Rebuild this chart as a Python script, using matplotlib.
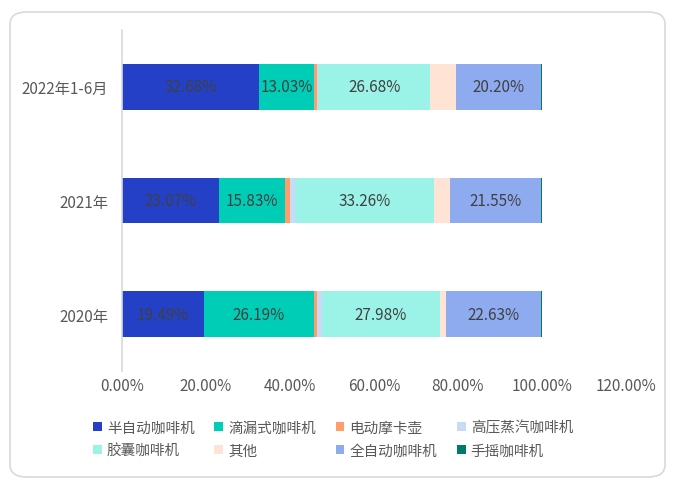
import matplotlib
matplotlib.use("Agg")
import matplotlib.pyplot as plt
from matplotlib.patches import FancyBboxPatch, Patch
from matplotlib.ticker import FuncFormatter

plt.rcParams['font.family'] = ['Noto Sans CJK SC', 'DejaVu Sans']

categories = ["2020年", "2021年", "2022年1-6月"]
series_names = ["半自动咖啡机", "滴漏式咖啡机", "电动摩卡壶", "高压蒸汽咖啡机",
                "胶囊咖啡机", "其他", "全自动咖啡机", "手摇咖啡机"]
semi_auto = [19.49, 23.07, 32.68]
drip = [26.19, 15.83, 13.03]
moka = [0.8, 1.0, 0.6]
steam = [1.2, 1.2, 0.4]
capsule = [27.98, 33.26, 26.68]
other = [1.5, 3.8, 6.2]
full_auto = [22.63, 21.55, 20.20]
hand = [0.21, 0.29, 0.21]
series_values = [semi_auto, drip, moka, steam, capsule, other, full_auto, hand]
labeled = [True, True, False, False, True, False, True, False]
colors = ["#2340C6", "#00CDB5", "#FF9E6A", "#C9DAF6", "#9BF3E7", "#FFE3D5", "#8EABF0", "#007A6B"]
xticks = [0, 20, 40, 60, 80, 100, 120]

fig = plt.figure(figsize=(6.8, 4.89), dpi=100)
fig.patch.set_facecolor("white")
border = FancyBboxPatch((10 / 680, 1 - 478 / 489), 655 / 680, 465 / 489,
                        boxstyle="round,pad=0,rounding_size=0.025",
                        transform=fig.transFigure, facecolor="none",
                        edgecolor="#D9D9D9", linewidth=1.2, zorder=-10)
fig.patches.append(border)

ax = fig.add_axes([122 / 680, 1 - 372 / 489, (626 - 122) / 680, (372 - 31) / 489])
ax.set_facecolor("none")

ypos = list(range(len(categories)))
left = [0.0] * len(categories)
handles = []
for name, vals, col, lab in zip(series_names, series_values, colors, labeled):
    cont = ax.barh(ypos, vals, left=left, height=0.4, color=col, label=name)
    if lab:
        ax.bar_label(cont, labels=[f"{v:.2f}%" for v in vals], label_type="center",
                     color="#404040", fontsize=11)
    left = [l + v for l, v in zip(left, vals)]
    handles.append(Patch(facecolor=col, label=name))

ax.set_xlim(0, 120)
ax.set_ylim(-0.5, 2.5)
ax.set_xticks(xticks)
ax.xaxis.set_major_formatter(FuncFormatter(lambda v, p: f"{v:.2f}%"))
ax.set_yticks(ypos)
ax.set_yticklabels(categories)
ax.tick_params(axis="both", length=0, labelsize=11, labelcolor="#595959")
ax.tick_params(axis="x", pad=4)
ax.tick_params(axis="y", pad=10)
for s in ["top", "right", "bottom"]:
    ax.spines[s].set_visible(False)
ax.spines["left"].set_color("#D9D9D9")
ax.spines["left"].set_linewidth(1.2)

order = [0, 4, 1, 5, 2, 6, 3, 7]
leg = fig.legend([handles[i] for i in order], [series_names[i] for i in order],
                 ncol=4, loc="center", bbox_to_anchor=(333 / 680, 1 - 440 / 489),
                 frameon=False, fontsize=10.5, handlelength=0.6, handleheight=0.6,
                 handletextpad=0.35, columnspacing=1.35, labelspacing=0.6,
                 labelcolor="#595959")

fig.savefig("out.png", dpi=100, facecolor="white")
